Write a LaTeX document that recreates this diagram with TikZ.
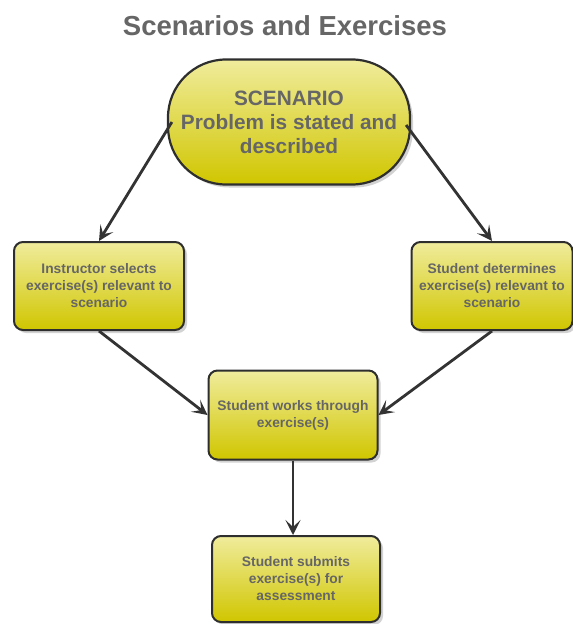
\documentclass[tikz,border=0pt]{standalone}
\usepackage{fontspec}
\setmainfont{Liberation Sans}
\usetikzlibrary{shadows,arrows.meta}
\definecolor{txtgrey}{HTML}{666666}
\definecolor{edgegrey}{HTML}{2E2E2E}
\definecolor{fillTop}{HTML}{F0EC9C}
\definecolor{fillBot}{HTML}{D0C600}
\tikzset{
  stepbox/.style={draw=edgegrey, line width=2pt, rounded corners=9pt,
    top color=fillTop, bottom color=fillBot,
    drop shadow={shadow xshift=3pt, shadow yshift=-3pt, fill=black!35},
    text=txtgrey, align=center, inner sep=2pt,
    font=\bfseries\fontsize{13.8}{17}\selectfont},
  flowarrow/.style={line width=2.8pt, draw=black!80,
    -{Stealth[length=15pt,width=15pt,inset=7pt]}}
}
\begin{document}
\begin{tikzpicture}[x=1pt,y=-1pt]
  % canvas
  \useasboundingbox (0,0) rectangle (573,624);

  % Title
  \node (title) at (285,26) [text=txtgrey, font=\bfseries\fontsize{27.5}{30}\selectfont] {Scenarios and Exercises};

  % Marking the scenario
  \node (scenario) at (289,122) [stepbox, line width=2.2pt, rounded corners=58pt, minimum width=242pt, minimum height=125pt,
    font=\bfseries\fontsize{20.8}{24}\selectfont] {SCENARIO\\Problem is stated and\\described};

  % Marking the boxes
  \node (instructor) at (99,286) [stepbox, minimum width=170pt, minimum height=88pt] {Instructor selects\\exercise(s) relevant to\\scenario};
  \node (chooser) at (492,286) [stepbox, minimum width=161pt, minimum height=88pt] {Student determines\\exercise(s) relevant to\\scenario};
  \node (works) at (293,415) [stepbox, minimum width=169pt, minimum height=89pt] {Student works through\\exercise(s)};
  \node (submits) at (296,579) [stepbox, minimum width=168pt, minimum height=86pt] {Student submits\\exercise(s) for\\assessment};

  % Drawing the arrows
  \draw [flowarrow] (scenario.west) ++(5,0) -- (instructor.north);
  \draw [flowarrow] (scenario.east) ++(-5,3) -- (chooser.north);
  \draw [flowarrow] (instructor.south) -- (works.west);
  \draw [flowarrow] (chooser.south) -- (works.east);
  \draw [flowarrow] (works.south) -- (works.south |- submits.north);
\end{tikzpicture}
\end{document}
